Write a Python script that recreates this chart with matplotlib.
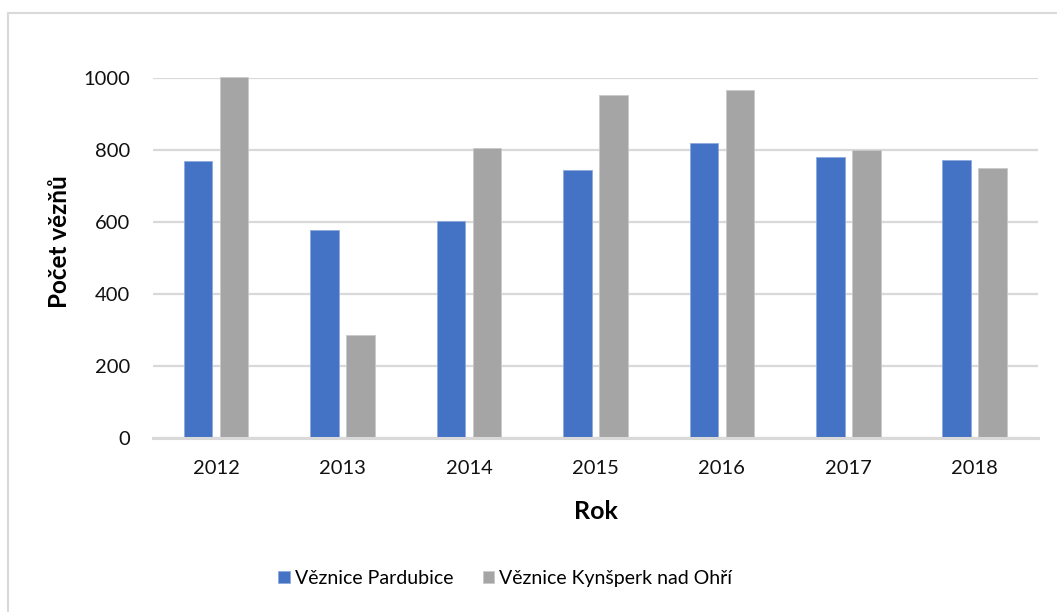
import matplotlib.pyplot as plt
import numpy as np
from matplotlib.lines import Line2D

# data
years = ['2012', '2013', '2014', '2015', '2016', '2017', '2018']
pardubice = [769, 578, 602, 745, 819, 780, 773]
kynsperk = [1005, 286, 805, 954, 967, 801, 752]
series_names = ['Věznice Pardubice', 'Věznice Kynšperk nad Ohří']

plt.rcParams['font.family'] = ['Lato', 'DejaVu Sans']

fig = plt.figure(figsize=(10.57, 6.12), dpi=100)
ax = fig.add_axes([0.1447, 0.2843, 0.8373, 0.5877])

x = np.arange(len(years))
w = 0.226
off = 0.1425
ax.bar(x - off, pardubice, w, color='#4472C4', edgecolor='#8FAADC', linewidth=0.6,
       label=series_names[0], clip_on=False, zorder=3)
ax.bar(x + off, kynsperk, w, color='#A5A5A5', edgecolor='#C9C9C9', linewidth=0.6,
       label=series_names[1], clip_on=False, zorder=3)

ax.set_xlim(-0.5, 6.5)
ax.set_ylim(0, 1000)
ax.set_yticks([0, 200, 400, 600, 800, 1000])
ax.set_xticks(x)
ax.set_xticklabels(years)
ax.grid(axis='y', color='#D9D9D9', linewidth=1.6, zorder=0)
for s in ['top', 'right', 'left']:
    ax.spines[s].set_visible(False)
ax.spines['bottom'].set_color('#D9D9D9')
ax.spines['bottom'].set_linewidth(2.2)
ax.spines['bottom'].set_zorder(4)
ax.tick_params(axis='both', length=0, labelsize=14.5, labelcolor='#111111')
ax.tick_params(axis='y', pad=16.5)
ax.tick_params(axis='x', pad=16)

ax.set_ylabel('Počet vězňů', fontsize=17.5, fontweight='bold')
ax.yaxis.set_label_coords(-0.0927, 0.545)
ax.set_xlabel('Rok', fontsize=18, fontweight='bold')
ax.xaxis.set_label_coords(0.5, -0.172)

fig.legend(loc='center', bbox_to_anchor=(0.478, 0.055), ncol=2, frameon=False,
           fontsize=14, handlelength=0.6, handleheight=0.6, handletextpad=0.25,
           columnspacing=1.5)

# outer chart frame (only top and left edges visible in the crop)
fig.add_artist(Line2D([8 / 1057, 1], [1 - 13 / 612, 1 - 13 / 612], color='#D9D9D9', linewidth=1.5,
                      transform=fig.transFigure))
fig.add_artist(Line2D([8 / 1057, 8 / 1057], [0, 1 - 13 / 612], color='#D9D9D9', linewidth=1.5,
                      transform=fig.transFigure))

fig.savefig('out.png', dpi=100)
